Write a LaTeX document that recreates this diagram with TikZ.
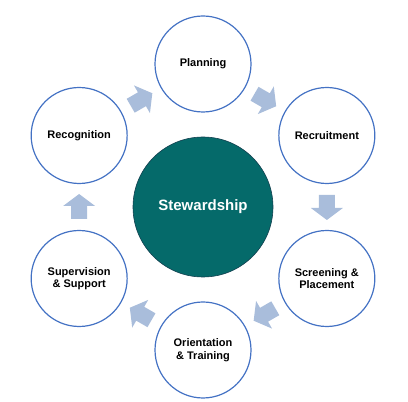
\documentclass[tikz,border=0pt]{standalone}
\usepackage{fontspec}
\setmainfont{Liberation Sans}
\usetikzlibrary{calc}
\definecolor{circblue}{HTML}{4472C4}
\definecolor{hubfill}{HTML}{056A6A}
\definecolor{hubedge}{HTML}{123F4F}
\definecolor{arrowblue}{HTML}{A9BDDB}
\begin{document}
\begin{tikzpicture}[x=1pt,y=1pt,
  outer/.style={circle, draw=circblue, line width=1.2pt, fill=white, minimum size=96pt, inner sep=0pt, align=center, font=\bfseries\fontsize{11}{12.5}\selectfont},
  hub/.style={circle, fill=hubfill, draw=hubedge, line width=0.6pt, minimum size=140pt, inner sep=0pt, text=white, font=\bfseries\fontsize{15}{18}\selectfont},
  blockarrow/.pic={\fill[arrowblue] (-12,-8) -- (1,-8) -- (1,-16) -- (13,0) -- (1,16) -- (1,8) -- (-12,8) -- cycle;}
]
\useasboundingbox (0,0) rectangle (408,402);
\node[hub] (c) at (203,195) {Stewardship};
\node[outer] (plan) at ($(c)+(90:143)$) {Planning};
\node[outer] (recr) at ($(c)+(30:143)$) {Recruitment};
\node[outer] (scre) at ($(c)+(-30:143)$) {Screening \&\\Placement};
\node[outer] (orie) at ($(c)+(-90:143)$) {Orientation\\\& Training};
\node[outer] (supe) at ($(c)+(-150:143)$) {Supervision\\\& Support};
\node[outer] (reco) at ($(c)+(150:143)$) {Recognition};
\pic[rotate=-30] at ($(plan.center)!0.5!(recr.center)$) {blockarrow};
\pic[rotate=-90] at ($(recr.center)!0.5!(scre.center)$) {blockarrow};
\pic[rotate=-150] at ($(scre.center)!0.5!(orie.center)$) {blockarrow};
\pic[rotate=150] at ($(orie.center)!0.5!(supe.center)$) {blockarrow};
\pic[rotate=90] at ($(supe.center)!0.5!(reco.center)$) {blockarrow};
\pic[rotate=30] at ($(reco.center)!0.5!(plan.center)$) {blockarrow};
\end{tikzpicture}
\end{document}
